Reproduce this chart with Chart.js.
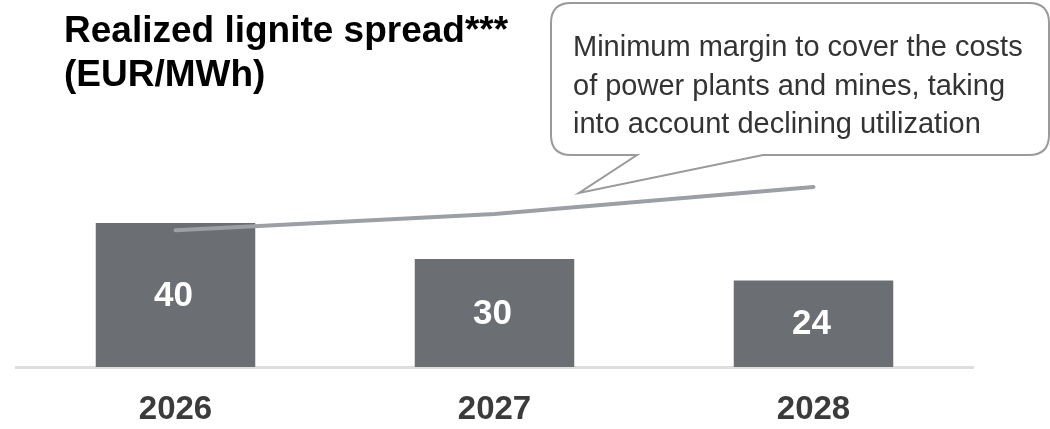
<!DOCTYPE html>
<html>
<head>
<meta charset="utf-8">
<script src="https://cdn.jsdelivr.net/npm/chart.js@4.4.1/dist/chart.umd.min.js"></script>
<style>
  body { margin: 0; background: #fff; }
  #wrap { position: relative; width: 1050px; height: 429px; }
  #title {
    position: absolute; left: 64px; top: 8px;
    font: bold 37px "Liberation Sans", Arial, sans-serif;
    line-height: 43.5px; color: #000;
    white-space: nowrap;
  }
  #note {
    position: absolute; left: 573px; top: 27px;
    font: 29px "Liberation Sans", Arial, sans-serif;
    line-height: 38.5px; color: #333;
    white-space: nowrap;
  }
</style>
</head>
<body>
<div id="wrap">
  <canvas id="chart"></canvas>
  <div id="title">Realized lignite spread***<br>(EUR/MWh)</div>
  <div id="note">Minimum margin to cover the costs<br>of power plants and mines, taking<br>into account declining utilization</div>
</div>
<script>
// Data
const years = ["2026", "2027", "2028"];
const spreadValues = [40, 30, 24];
const minMarginValues = [38, 42.5, 50];

// White value labels inside the bars
const barLabels = {
    id: "barLabels",
    afterDatasetsDraw(chart) {
        const ctx = chart.ctx;
        const meta = chart.getDatasetMeta(1);
        ctx.save();
        ctx.fillStyle = "#ffffff";
        ctx.font = "bold 35px 'Liberation Sans', Arial, sans-serif";
        ctx.textAlign = "center";
        ctx.textBaseline = "middle";
        meta.data.forEach(function(bar, i) {
            ctx.fillText(spreadValues[i], bar.x - 2, (bar.y + bar.base) / 2 + 1);
        });
        ctx.restore();
    }
};

// Speech bubble behind the note text
const bubble = {
    id: "bubble",
    afterDraw(chart) {
        const ctx = chart.ctx;
        const l = 551, t = 3, r = 1049, b = 155, rad = 20;
        ctx.save();
        ctx.beginPath();
        ctx.moveTo(l + rad, t);
        ctx.lineTo(r - rad, t);
        ctx.quadraticCurveTo(r, t, r, t + rad);
        ctx.lineTo(r, b - rad);
        ctx.quadraticCurveTo(r, b, r - rad, b);
        ctx.lineTo(763, b);
        ctx.lineTo(579, 193);
        ctx.lineTo(637, b);
        ctx.lineTo(l + rad, b);
        ctx.quadraticCurveTo(l, b, l, b - rad);
        ctx.lineTo(l, t + rad);
        ctx.quadraticCurveTo(l, t, l + rad, t);
        ctx.closePath();
        ctx.fillStyle = "#ffffff";
        ctx.fill();
        ctx.strokeStyle = "#9a9a9a";
        ctx.lineWidth = 2;
        ctx.stroke();
        ctx.restore();
    }
};

new Chart(document.getElementById("chart"), {
    data: {
        labels: years,
        datasets: [
            {
                type: "line",
                data: minMarginValues,
                borderColor: "#9ba0a6",
                borderWidth: 4,
                borderCapStyle: "round",
                pointRadius: 0,
                order: 0
            },
            {
                type: "bar",
                data: spreadValues,
                backgroundColor: "#6b6e72",
                barPercentage: 0.5,
                categoryPercentage: 1,
                order: 1
            }
        ]
    },
    options: {
        responsive: true,
        maintainAspectRatio: false,
        animation: false,
        layout: { padding: { top: 7, left: 16, right: 77, bottom: 0 } },
        plugins: {
            legend: { display: false },
            tooltip: { enabled: false }
        },
        scales: {
            x: {
                grid: { display: false, drawTicks: false },
                border: { display: true, color: "#dedede", width: 3 },
                ticks: {
                    padding: 23,
                    color: "#3b3b3b",
                    font: { family: "'Liberation Sans', Arial, sans-serif", size: 33, weight: "bold" }
                },
                afterFit(scale) {
                    scale.height = 62;
                }
            },
            y: { display: false, min: 0, max: 100 }
        }
    },
    plugins: [barLabels, bubble]
});
</script>
</body>
</html>
